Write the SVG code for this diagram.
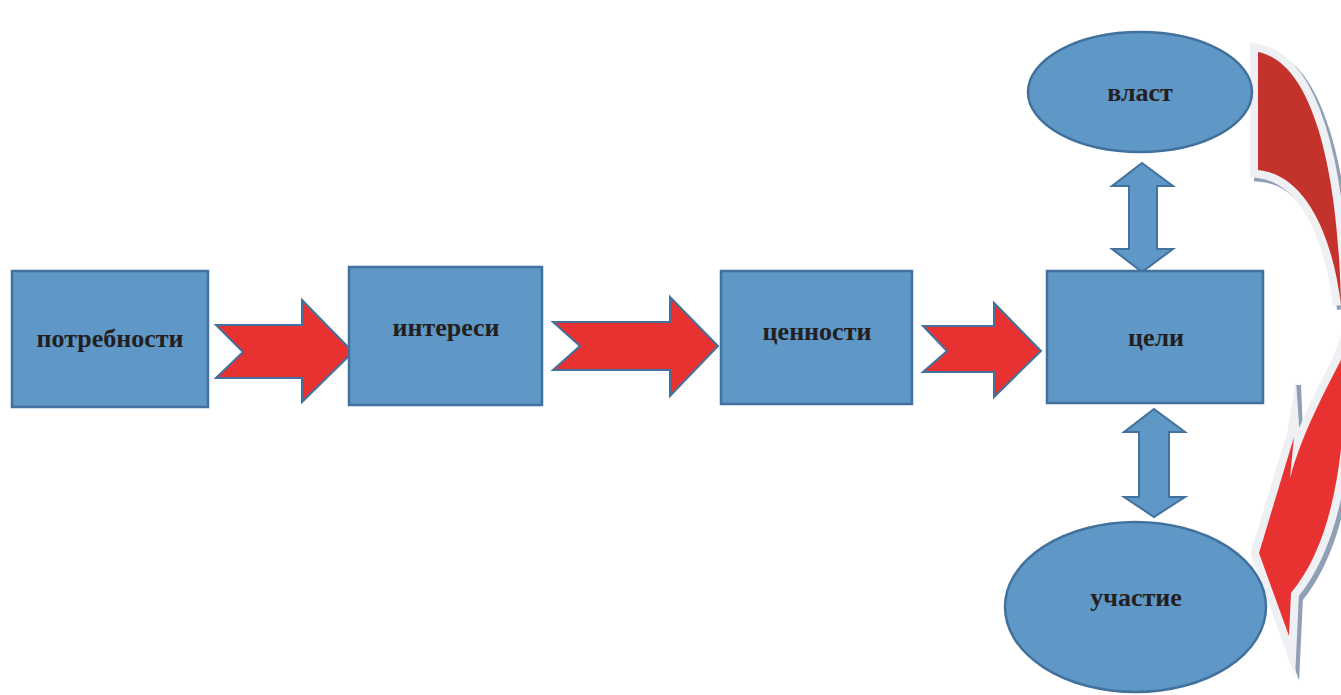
<svg xmlns="http://www.w3.org/2000/svg" width="1341" height="695" viewBox="0 0 1341 695">
<style>
.box{fill:#5F97C6;stroke:#41719C;stroke-width:2.5}
.chev{fill:#E83131;stroke:#41719C;stroke-width:2;stroke-linejoin:miter}
.dbl{fill:#5F97C6;stroke:#41719C;stroke-width:2}
.lbl{font-family:"Liberation Serif","Times New Roman",serif;font-weight:bold;font-size:26px;fill:#231F20;text-anchor:middle}
.brd{fill:none;stroke:#EEF0F3;stroke-width:16;stroke-linejoin:miter;stroke-miterlimit:6}
.shd{fill:none;stroke:#8E9FB6;stroke-width:16;stroke-linejoin:miter;stroke-miterlimit:6}
</style>
<rect width="1341" height="695" fill="#FFFFFF"/>
<g id="connectors">
<path class="chev" d="M216,325 L302,325 L302,300 L353,352 L302,402 L302,378 L216,378 L243,352 Z"/>
<path class="chev" d="M553,322 L670,322 L670,297 L718,346 L670,396 L670,370 L553,370 L580,346 Z"/>
<path class="chev" d="M923,326 L994,326 L994,303 L1041,351 L994,397 L994,372 L923,372 L947,351 Z"/>
<path class="dbl" d="M1142,163 L1173,186 L1157,186 L1157,249 L1173,249 L1142,272 L1112,249 L1129,249 L1129,186 L1112,186 Z"/>
<path class="dbl" d="M1154,409 L1185,432 L1169,432 L1169,497 L1185,497 L1154,517 L1124,497 L1139,497 L1139,432 L1124,432 Z"/>
<g id="curved-arrow">
<g transform="translate(4,4)">
<path class="shd" d="M1258,52 C1310,62 1338,160 1341,305 C1333,240 1308,175 1258,170 Z"/>
<path class="shd" d="M1346,345 C1346,450 1335,540 1291,593 L1289,636 L1259,553 L1294,437 L1290,478 C1300,440 1320,400 1340,362 Z"/>
</g>
<path d="M1295,385 L1301,385 L1304,455 L1298,460 Z" fill="#8E9FB6"/>
<path class="brd" d="M1258,52 C1310,62 1338,160 1341,305 C1333,240 1308,175 1258,170 Z"/>
<path d="M1258,52 C1310,62 1338,160 1341,305 C1333,240 1308,175 1258,170 Z" fill="#C3322B"/>
<path class="brd" d="M1346,345 C1346,450 1335,540 1291,593 L1289,636 L1259,553 L1294,437 L1290,478 C1300,440 1320,400 1340,362 Z"/>
<path d="M1286,440 L1296,380 L1300,440 L1296,470 Z" fill="#EEF0F3"/>
<path d="M1346,345 C1346,450 1335,540 1291,593 L1289,636 L1259,553 L1294,437 L1290,478 C1300,440 1320,400 1340,362 Z" fill="#E83131"/>
</g>
</g>
<g id="n-potrebnosti"><rect class="box" x="12" y="271" width="196" height="136"/><text class="lbl" x="110" y="347">потребности</text></g>
<g id="n-interesi"><rect class="box" x="349" y="267" width="193" height="138"/><text class="lbl" x="446" y="336">интереси</text></g>
<g id="n-cennosti"><rect class="box" x="721" y="271" width="191" height="133"/><text class="lbl" x="817" y="340">ценности</text></g>
<g id="n-celi"><rect class="box" x="1047" y="271" width="216" height="132"/><text class="lbl" x="1156" y="346">цели</text></g>
<g id="n-vlast"><ellipse class="box" cx="1140" cy="92" rx="112" ry="60"/><text class="lbl" x="1140" y="101">власт</text></g>
<g id="n-uchastie"><ellipse class="box" cx="1135.5" cy="607" rx="130.5" ry="85"/><text class="lbl" x="1136" y="606">участие</text></g>
</svg>
